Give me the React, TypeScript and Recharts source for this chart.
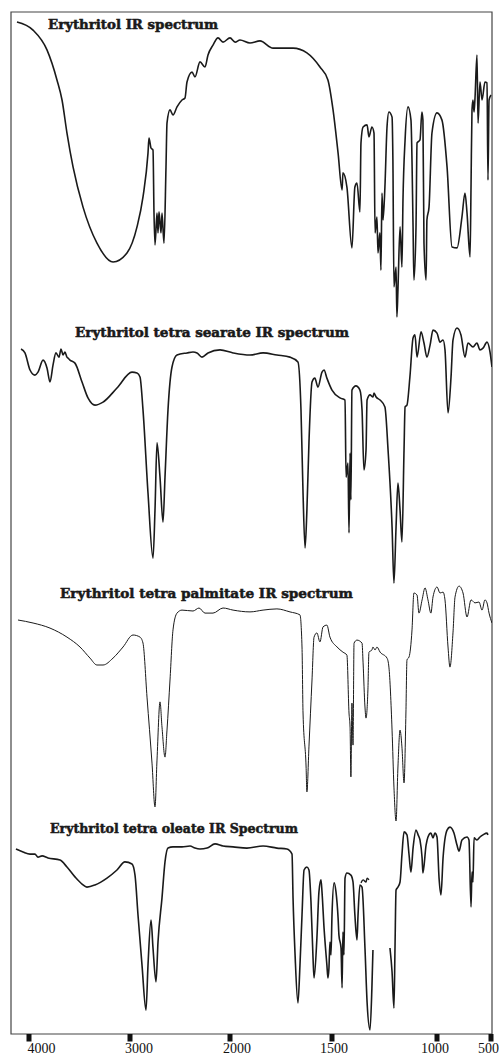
import React from 'react';
import { LineChart, Line, XAxis, YAxis, ReferenceArea } from 'recharts';

// ---- axis (broken wavenumber axis, as printed on the figure) ----
const TICK_WAVENUMBERS = [4000, 3000, 2000, 1500, 1000, 500];
const TICK_LABELS = ['4000', '3000', '2000', '1500', '1000', '500'];
const AXIS_BREAKS = [0, 101, 201, 303, 408, 462];
const X_DOMAIN: [number, number] = [-18, 463];
const Y_MAX = 340.67;

// ---- titles ----
const TITLES = [
  'Erythritol IR spectrum',
  'Erythritol tetra searate IR spectrum',
  'Erythritol tetra palmitate IR spectrum',
  'Erythritol tetra oleate IR Spectrum',
];

// ---- spectra: [wavenumber cm-1, transmittance (a.u.)] ----
const ERYTHRITOL: [number, number | null][] = [
  [4119, 100], [3960, 97.3], [3822, 90.7], [3723, 80.7], [3673, 74], [3624, 63], [3564, 51.7], [3465, 38.3],
  [3327, 26.3], [3168, 20], [3030, 23], [2930, 31.7], [2870, 41.7], [2820, 56.3], [2810, 61.3], [2790, 58],
  [2770, 57.3], [2760, 36.3], [2750, 25.7], [2730, 36.3], [2720, 29.7], [2710, 36.7], [2690, 29.7], [2680, 36.3],
  [2660, 26.3], [2640, 51.7], [2630, 66.3], [2600, 70.7], [2570, 69], [2530, 71.7], [2480, 74], [2450, 74.7],
  [2430, 80], [2380, 83.3], [2350, 81.7], [2300, 86.7], [2250, 85], [2220, 89], [2170, 92.3], [2120, 94.7],
  [2070, 93.3], [2000, 94.7], [1975, 93.3], [1951, 94], [1902, 93], [1853, 93.7], [1789, 91.3], [1691, 91.3],
  [1623, 89.7], [1559, 85], [1520, 80.7], [1495, 70.7], [1471, 56.3], [1452, 44], [1448, 49.7], [1429, 45],
  [1405, 24.7], [1391, 45], [1381, 46.3], [1367, 36.7], [1362, 59.7], [1352, 65], [1333, 65.7], [1324, 61.7],
  [1310, 65], [1300, 63], [1295, 29.7], [1286, 35], [1281, 23], [1272, 29.7], [1267, 17.3], [1262, 43],
  [1257, 34], [1248, 45], [1238, 65], [1229, 70], [1214, 68.3], [1210, 54], [1205, 11.7], [1195, 18.3],
  [1191, 1.7], [1186, 10.7], [1176, 31.7], [1167, 18.3], [1162, 40.7], [1152, 60.7], [1138, 71.7], [1124, 67.3],
  [1114, 31.7], [1110, 14], [1100, 31.7], [1095, 59.7], [1081, 60.7], [1072, 70], [1067, 67.3], [1062, 26.3],
  [1052, 14], [1048, 34], [1038, 38.3], [1024, 63], [1000, 69.7], [954, 67.3], [907, 51.7], [861, 25],
  [815, 24.7], [769, 35], [741, 43], [722, 36.3], [694, 21.7], [685, 45], [676, 70.7], [667, 74],
  [657, 70], [648, 74.7], [630, 89], [620, 66.3], [602, 80], [583, 74], [556, 80], [537, 79.7],
  [528, 47.3], [518, 74], [500, 75.7],
];

const STEARATE: [number, number | null][] = [
  [4079, 79], [4040, 77.7], [3990, 72], [3941, 70.3], [3911, 71.3], [3861, 75.3], [3822, 72.7], [3792, 68],
  [3762, 73.7], [3733, 77.7], [3703, 76.3], [3683, 79], [3663, 77], [3644, 78], [3624, 76.3], [3614, 76],
  [3594, 75.3], [3545, 74.3], [3475, 68], [3416, 62.7], [3347, 60.3], [3267, 61.3], [3129, 66], [2980, 71.3],
  [2930, 71], [2900, 69.7], [2870, 58.7], [2820, 31], [2770, 9.3], [2750, 25.3], [2730, 47.7], [2700, 36.3],
  [2670, 21.3], [2650, 36.3], [2620, 58.7], [2580, 73], [2530, 77], [2430, 77.7], [2370, 78], [2330, 77.7],
  [2280, 76.3], [2220, 77.7], [2100, 78.7], [1985, 77.7], [1902, 77], [1838, 77.7], [1770, 77], [1706, 76.3],
  [1667, 74.7], [1652, 58.7], [1642, 31], [1632, 12.7], [1623, 25.3], [1613, 47.7], [1598, 68], [1584, 69.3],
  [1569, 66.3], [1549, 71.3], [1539, 72], [1525, 69.3], [1500, 65.3], [1462, 62.7], [1438, 62], [1433, 36.3],
  [1424, 41], [1419, 17.7], [1414, 44.3], [1410, 28.7], [1405, 65.3], [1386, 66.7], [1367, 65.3], [1357, 58.7],
  [1348, 38.7], [1338, 45.3], [1333, 62], [1319, 63.7], [1305, 63], [1300, 64.3], [1290, 63], [1271, 62],
  [1248, 59.7], [1233, 45.3], [1214, 19.7], [1205, 1], [1195, 19.7], [1186, 34.3], [1176, 25.3], [1167, 14.7],
  [1157, 45.3], [1152, 59.7], [1143, 60.3], [1129, 69.7], [1114, 82.7], [1105, 83.7], [1095, 76.3], [1076, 84.7],
  [1062, 81], [1048, 76.3], [1033, 80.3], [1019, 85.3], [1000, 84.3], [972, 81.3], [944, 82], [926, 78.7],
  [898, 57.7], [870, 69.7], [852, 82], [815, 86], [778, 83.7], [741, 76.3], [713, 81], [667, 79.7],
  [630, 81], [602, 78.7], [574, 79.3], [537, 81.3], [509, 78], [491, 73],
];

const PALMITATE: [number, number | null][] = [
  [4109, 66], [3960, 65], [3792, 63.3], [3624, 60.3], [3495, 57], [3396, 53.3], [3327, 51], [3267, 51],
  [3168, 53.3], [3069, 57], [2970, 61], [2900, 60.3], [2870, 58.3], [2830, 40.3], [2780, 18.3], [2750, 3.7],
  [2730, 19.3], [2700, 38.7], [2680, 30.3], [2650, 20.3], [2630, 29.3], [2600, 46], [2570, 62.7], [2530, 68.3],
  [2480, 69.3], [2370, 69], [2310, 70], [2250, 68.3], [2170, 68.3], [2070, 70], [1985, 69.3], [1902, 68.7],
  [1838, 69.3], [1770, 69.7], [1706, 68.7], [1657, 67.7], [1647, 57], [1642, 35], [1627, 17], [1623, 8.7],
  [1613, 23.7], [1598, 46], [1588, 60.3], [1574, 61.7], [1559, 58.7], [1544, 63.7], [1525, 64.3], [1510, 60.3],
  [1476, 57], [1448, 55.3], [1429, 54.3], [1419, 35], [1414, 30.3], [1410, 13.7], [1405, 38.3], [1400, 24.3],
  [1395, 58.3], [1381, 59.3], [1357, 58.3], [1352, 51.7], [1343, 37], [1338, 33.3], [1329, 42.7], [1324, 55.3],
  [1310, 56], [1305, 57], [1295, 56], [1286, 57], [1271, 55.3], [1238, 53.3], [1229, 50.3], [1214, 29.3],
  [1205, 10.3], [1195, -1], [1186, 17], [1176, 29.3], [1167, 23.7], [1157, 11.7], [1148, 35], [1143, 52.7],
  [1133, 53.7], [1119, 62.7], [1110, 75], [1095, 74.3], [1086, 68.3], [1071, 72.7], [1057, 76.7], [1043, 72.7],
  [1029, 68.3], [1019, 73.7], [1000, 77], [972, 75], [944, 75.3], [926, 72.7], [898, 57], [880, 50.3],
  [852, 61.7], [833, 73.7], [796, 77.3], [759, 75], [722, 67], [685, 72.7], [648, 71.7], [611, 72],
  [583, 69.3], [556, 72.7], [537, 71.7], [518, 68.3], [491, 65],
];

const OLEATE: [number, number | null][] = [
  [4129, 61], [4059, 60], [3990, 59.3], [3941, 59.3], [3911, 58.3], [3871, 58.7], [3812, 58], [3693, 57.3],
  [3624, 55], [3545, 51.7], [3475, 49.3], [3426, 48.3], [3347, 49], [3228, 51.3], [3129, 54], [3050, 56.7],
  [2980, 56], [2950, 52.3], [2920, 39], [2880, 22.3], [2840, 7.3], [2820, 22.3], [2790, 37.3], [2770, 28],
  [2740, 16.7], [2720, 30], [2680, 44.7], [2650, 56.7], [2620, 61.3], [2570, 61.7], [2480, 61.7], [2400, 62],
  [2350, 61.3], [2300, 61], [2230, 61.3], [2150, 62.7], [2070, 62], [1985, 61.7], [1917, 61.3], [1838, 62],
  [1770, 61.3], [1721, 61], [1696, 59.3], [1691, 44.7], [1681, 25.7], [1667, 9.7], [1657, 22.3], [1647, 39],
  [1637, 54], [1623, 55], [1613, 54], [1603, 43.3], [1593, 24.7], [1588, 18], [1574, 31.3], [1564, 46.7],
  [1554, 50.7], [1549, 46.7], [1539, 34.7], [1525, 22.3], [1520, 18], [1515, 21.3], [1510, 30], [1505, 25.7],
  [1500, 39], [1490, 49.7], [1481, 46.7], [1471, 38], [1467, 32.3], [1457, 28], [1452, 14.7], [1448, 33.3],
  [1443, 25.7], [1438, 51.3], [1429, 53], [1410, 52.3], [1400, 50], [1391, 39], [1381, 30.7], [1376, 39],
  [1367, 49], [1357, 48.3], [1343, 28], [1333, 10], [1319, 0.7], [1310, 14.7], [1305, 27.3], [1290, null],
  [1224, 28], [1214, 20], [1205, 8], [1200, 28], [1195, 47.3], [1186, 48.3], [1176, 50], [1167, 59],
  [1157, 66.7], [1143, 65.7], [1133, 59], [1124, 53.3], [1114, 61.3], [1100, 67.3], [1090, 65.7], [1081, 64],
  [1071, 58], [1067, 53], [1052, 62.3], [1043, 65], [1029, 66.3], [1019, 64.7], [1010, 66.3], [1000, 65],
  [981, 51.3], [963, 45.7], [944, 58], [907, 67.3], [880, 68.3], [843, 66.3], [815, 62.3], [796, 60.3],
  [769, 64], [722, 65], [704, 64], [685, 41.7], [676, 53.3], [667, 50], [657, 64.7], [630, 64],
  [602, 65], [574, 65.7], [537, 66.3], [528, 65.7],
];

const OLEATE_FRAGMENT: [number, number | null][] = [
  [1362, 49.7], [1352, 50.7], [1338, 50], [1333, 51.3], [1324, 50.7],
];

// ---- layout / style constants ----
const OFFSETS = [237.33, 149.33, 72, 0.67, 0.67];
const STROKE_WIDTHS = [1.6, 1.6, 1, 1.6, 1.4];
const TITLE_X = [48, 75, 60, 50];
const TITLE_Y = [29, 337, 598, 833];
const TITLE_LEN = [170, 274, 293, 248];
const TICK_LABEL_DX = [-1.5, -5, -7, -12, -16, -13];

function toPos(wn: number): number {
  const W = TICK_WAVENUMBERS;
  const P = AXIS_BREAKS;
  let i = 0;
  if (wn >= W[0]) i = 0;
  else if (wn <= W[W.length - 1]) i = W.length - 2;
  else {
    while (!(wn <= W[i] && wn >= W[i + 1])) i++;
  }
  return P[i] + ((W[i] - wn) * (P[i + 1] - P[i])) / (W[i] - W[i + 1]);
}

const TICK_POS = TICK_WAVENUMBERS.map(toPos);

function AxisTick(props: any) {
  const { x, y, payload } = props;
  let idx = TICK_POS.findIndex((p) => Math.abs(p - payload.value) < 0.01);
  if (idx < 0) idx = 0;
  return (
    <g>
      <rect x={x - 2.5} y={y} width={5} height={7.5} fill="#111" />
      <text
        x={x + TICK_LABEL_DX[idx]}
        y={y + 19}
        textAnchor="start"
        fontFamily="'Liberation Serif', 'Times New Roman', serif"
        fontSize={14}
        fill="#111"
      >
        {TICK_LABELS[idx]}
      </text>
    </g>
  );
}

const SPECTRA = [ERYTHRITOL, STEARATE, PALMITATE, OLEATE, OLEATE_FRAGMENT];

export default function App() {
  const series = SPECTRA.map((arr, i) =>
    arr.map(([wn, t]) => ({ pos: toPos(wn), y: t === null ? null : t + OFFSETS[i] }))
  );
  return (
    <div style={{ position: 'absolute', left: 0, top: 0, width: 499, height: 1057, background: '#fff' }}>
      <LineChart width={499} height={1057} margin={{ top: 12, right: 7, bottom: 0, left: 11 }}>
        <XAxis
          type="number"
          dataKey="pos"
          domain={X_DOMAIN}
          ticks={TICK_POS}
          interval={0}
          height={23}
          axisLine={false}
          tickLine={false}
          tickSize={0}
          tickMargin={0}
          tick={<AxisTick />}
          allowDataOverflow
        />
        <YAxis type="number" domain={[0, Y_MAX]} hide allowDataOverflow />
        <ReferenceArea
          x1={X_DOMAIN[0]}
          x2={X_DOMAIN[1]}
          y1={0}
          y2={Y_MAX}
          fill="#fff"
          fillOpacity={0}
          stroke="#444"
          strokeWidth={1.2}
          ifOverflow="visible"
        />
        {series.map((d, i) => (
          <Line
            key={i}
            data={d}
            dataKey="y"
            type="monotoneX"
            stroke="#1a1a1a"
            strokeWidth={STROKE_WIDTHS[i]}
            dot={false}
            activeDot={false}
            connectNulls={false}
            isAnimationActive={false}
          />
        ))}
      </LineChart>
      <svg
        width={499}
        height={1057}
        style={{ position: 'absolute', left: 0, top: 0, pointerEvents: 'none' }}
      >
        {TITLES.map((t, i) => (
          <text
            key={i}
            x={TITLE_X[i]}
            y={TITLE_Y[i]}
            fontFamily="'DejaVu Serif', serif"
            fontWeight="bold"
            fontSize={13.5}
            fill="#1a1a1a"
            stroke="#1a1a1a"
            strokeWidth={0.55}
            textLength={TITLE_LEN[i]}
            lengthAdjust="spacingAndGlyphs"
          >
            {t}
          </text>
        ))}
      </svg>
    </div>
  );
}
